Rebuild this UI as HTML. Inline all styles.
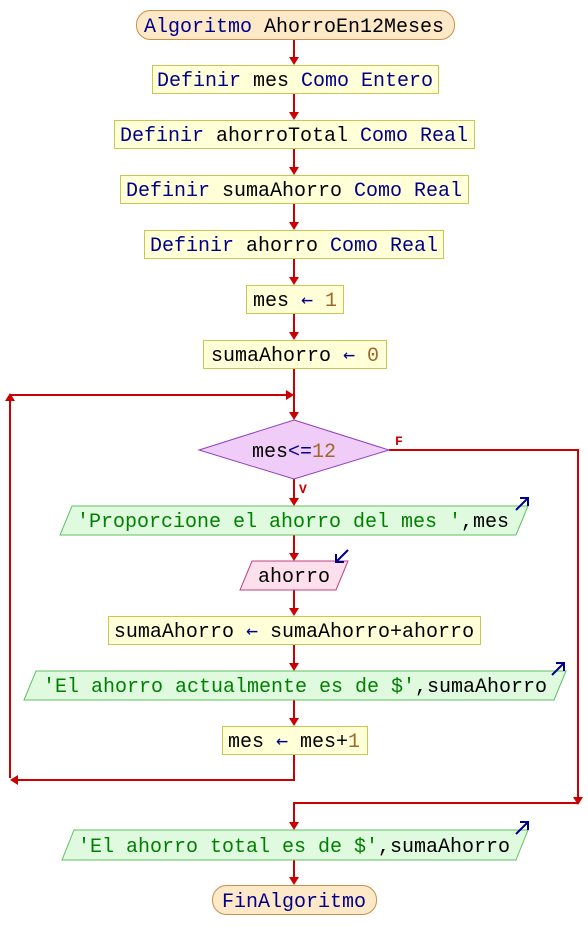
<!DOCTYPE html>
<html><head><meta charset="utf-8"><style>
html,body{margin:0;padding:0;background:#fff;}
svg{display:block}
text{font-family:"Liberation Mono","DejaVu Sans Mono",monospace;font-size:20px;}
.k{fill:#00008b}.i{fill:#000}.n{fill:#a0682a}.s{fill:#008000}
.a{font-family:"DejaVu Sans Mono",monospace;fill:#00008b}
</style></head><body>
<svg width="588" height="950" viewBox="0 0 588 950" xmlns="http://www.w3.org/2000/svg">
<g stroke="#cc0000" stroke-width="2" fill="none">
<line x1="294" y1="40" x2="294" y2="60"/>
<line x1="294" y1="93" x2="294" y2="115"/>
<line x1="294" y1="149" x2="294" y2="170"/>
<line x1="294" y1="204" x2="294" y2="225"/>
<line x1="294" y1="259" x2="294" y2="280"/>
<line x1="294" y1="314" x2="294" y2="335"/>
<line x1="294" y1="369" x2="294" y2="415"/>
<polyline points="294,755 294,780 12,780"/>
<polyline points="10,778 10,398"/>
<line x1="10" y1="395" x2="288" y2="395"/>
<line x1="294" y1="479" x2="294" y2="501"/>
<line x1="294" y1="535" x2="294" y2="556"/>
<line x1="294" y1="590" x2="294" y2="611"/>
<line x1="294" y1="645" x2="294" y2="666"/>
<line x1="294" y1="700" x2="294" y2="721"/>
<polyline points="389,450 578,450 578,798"/>
<polyline points="578,803 294,803 294,825"/>
<line x1="294" y1="860" x2="294" y2="880"/>
</g>
<g fill="#cc0000">
<polygon points="289,57 299,57 294,65"/>
<polygon points="289,112 299,112 294,120"/>
<polygon points="289,167 299,167 294,175"/>
<polygon points="289,222 299,222 294,230"/>
<polygon points="289,277 299,277 294,285"/>
<polygon points="289,332 299,332 294,340"/>
<polygon points="289,412 299,412 294,420"/>
<polygon points="289,498 299,498 294,506"/>
<polygon points="289,553 299,553 294,561"/>
<polygon points="289,608 299,608 294,616"/>
<polygon points="289,663 299,663 294,671"/>
<polygon points="289,718 299,718 294,726"/>
<polygon points="289,822 299,822 294,830"/>
<polygon points="289,877 299,877 294,885"/>
<polygon points="286,390 286,400 294,395"/>
<polygon points="5,401 15,401 10,393"/>
<polygon points="18,775 18,785 10,780"/>
<polygon points="573,797 583,797 578,805"/>
</g>
<g stroke-width="1">
<rect x="136.5" y="10.5" width="318" height="29" rx="14" fill="#fde9c8" stroke="#c8904a"/>
<rect x="152.5" y="65.5" width="286" height="28" fill="#ffffd8" stroke="#c8c850"/>
<rect x="114.5" y="120.5" width="360" height="28" fill="#ffffd8" stroke="#c8c850"/>
<rect x="120.5" y="175.5" width="348" height="28" fill="#ffffd8" stroke="#c8c850"/>
<rect x="144.5" y="230.5" width="299" height="28" fill="#ffffd8" stroke="#c8c850"/>
<rect x="246.5" y="285.5" width="97" height="28" fill="#ffffd8" stroke="#c8c850"/>
<rect x="203.5" y="340.5" width="183" height="28" fill="#ffffd8" stroke="#c8c850"/>
<polygon points="294,420 389,450 294,479 199,450" fill="#f0ccf8" stroke="#9040c0"/>
<polygon points="72,506 528,506 516,535 60,535" fill="#e0fae0" stroke="#60c060"/>
<polygon points="252,561 348,561 336,590 240,590" fill="#fde0ec" stroke="#c04080"/>
<rect x="108.5" y="616.5" width="372" height="28" fill="#ffffd8" stroke="#c8c850"/>
<polygon points="36,671 566,671 554,700 24,700" fill="#e0fae0" stroke="#60c060"/>
<rect x="222.5" y="726.5" width="145" height="28" fill="#ffffd8" stroke="#c8c850"/>
<polygon points="74,830 528,830 516,860 62,860" fill="#e0fae0" stroke="#60c060"/>
<rect x="212.5" y="885.5" width="164" height="29" rx="14" fill="#fde9c8" stroke="#c8904a"/>
</g>
<g stroke="#00008b" stroke-width="2" fill="none">
<path d="M516,510 L528,498 M520,498 L528,498 L528,506"/>
<path d="M552,675 L564,663 M556,663 L564,663 L564,671"/>
<path d="M516,834 L528,822 M520,822 L528,822 L528,830"/>
<path d="M348,550 L336,562 M336,554 L336,562 L344,562"/>
</g>
<g text-anchor="middle">
<text x="294" y="32"><tspan class="k">Algoritmo</tspan> <tspan class="i">AhorroEn12Meses</tspan></text>
<text x="295" y="86"><tspan class="k">Definir</tspan> <tspan class="i">mes</tspan> <tspan class="k">Como Entero</tspan></text>
<text x="294" y="141"><tspan class="k">Definir</tspan> <tspan class="i">ahorroTotal</tspan> <tspan class="k">Como Real</tspan></text>
<text x="294" y="196"><tspan class="k">Definir</tspan> <tspan class="i">sumaAhorro</tspan> <tspan class="k">Como Real</tspan></text>
<text x="294" y="251"><tspan class="k">Definir</tspan> <tspan class="i">ahorro</tspan> <tspan class="k">Como Real</tspan></text>
<text x="295" y="306"><tspan class="i">mes</tspan> <tspan class="a">←</tspan> <tspan class="n">1</tspan></text>
<text x="295" y="361"><tspan class="i">sumaAhorro</tspan> <tspan class="a">←</tspan> <tspan class="n">0</tspan></text>
<text x="294" y="457"><tspan class="i">mes</tspan><tspan class="k">&lt;=</tspan><tspan class="n">12</tspan></text>
<text x="293" y="527"><tspan class="s">'Proporcione el ahorro del mes '</tspan><tspan class="i">,mes</tspan></text>
<text x="294" y="582" class="i">ahorro</text>
<text x="294" y="637"><tspan class="i">sumaAhorro</tspan> <tspan class="a">←</tspan> <tspan class="i">sumaAhorro+ahorro</tspan></text>
<text x="295" y="692"><tspan class="s">'El ahorro actualmente es de $'</tspan><tspan class="i">,sumaAhorro</tspan></text>
<text x="294" y="747"><tspan class="i">mes</tspan> <tspan class="a">←</tspan> <tspan class="i">mes+</tspan><tspan class="n">1</tspan></text>
<text x="294" y="852"><tspan class="s">'El ahorro total es de $'</tspan><tspan class="i">,sumaAhorro</tspan></text>
<text x="294" y="907" class="k">FinAlgoritmo</text>
</g>
<text x="395" y="445" style="font-size:13px;font-weight:bold" fill="#cc0000">F</text>
<text x="299" y="493" style="font-size:13px;font-weight:bold" fill="#cc0000">V</text>
</svg>
</body></html>
